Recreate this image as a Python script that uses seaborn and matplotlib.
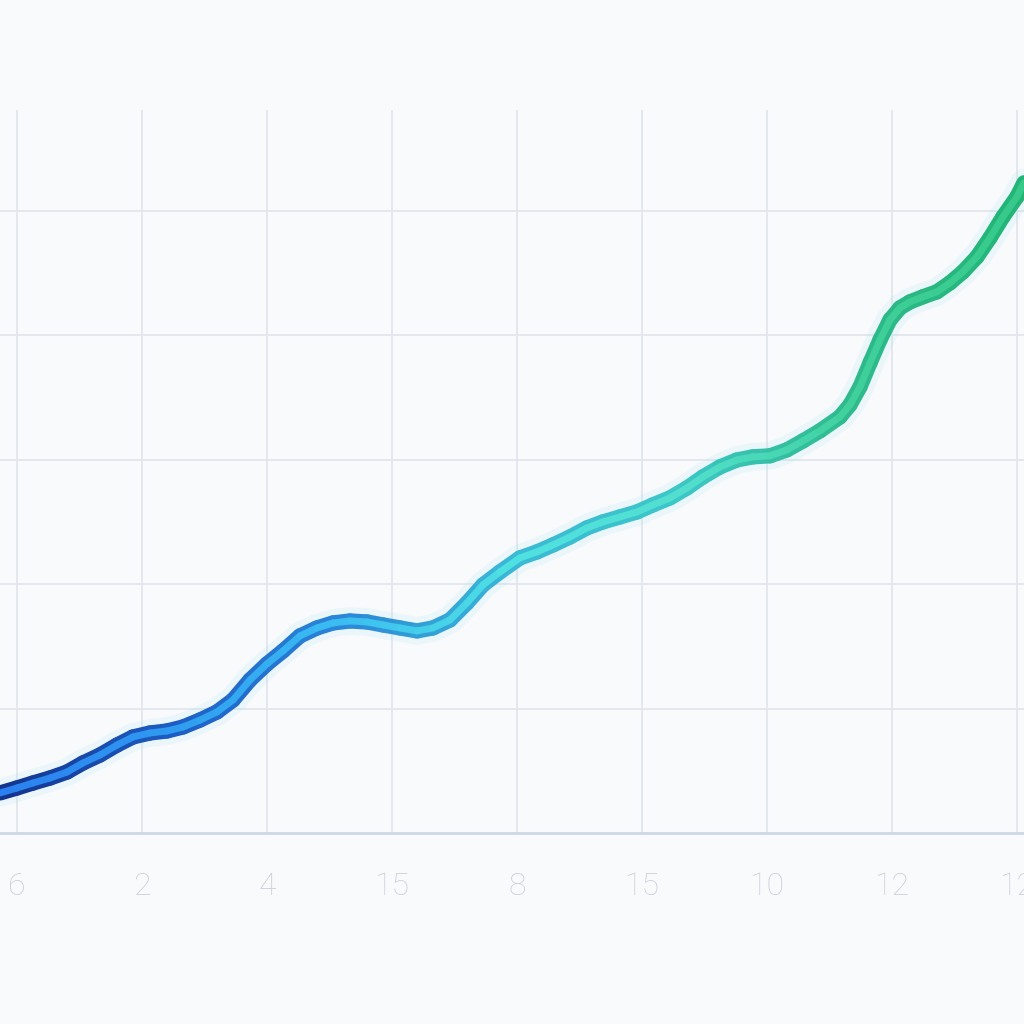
import numpy as np
import pandas as pd
import seaborn as sns
import matplotlib.pyplot as plt
from matplotlib.collections import LineCollection
from matplotlib.colors import LinearSegmentedColormap

# valores (unidades de la rejilla)
x_vals = [-0.136, 0.0, 0.128, 0.264, 0.4, 0.528, 0.664, 0.8, 0.928, 1.064,
          1.2, 1.328, 1.464, 1.6, 1.728, 1.864, 2.0, 2.128, 2.264, 2.4,
          2.528, 2.664, 2.8, 2.928, 3.064, 3.2, 3.328, 3.464, 3.6, 3.728,
          3.864, 4.024, 4.16, 4.288, 4.424, 4.56, 4.688, 4.824, 4.96, 5.088,
          5.224, 5.36, 5.488, 5.624, 5.76, 5.888, 6.024, 6.16, 6.288, 6.424,
          6.584, 6.664, 6.744, 6.824, 6.904, 6.984, 7.064, 7.144, 7.248, 7.36,
          7.464, 7.568, 7.68, 7.784, 7.888, 8.0, 8.056]
y_vals = [0.322, 0.362, 0.402, 0.442, 0.490, 0.563, 0.627, 0.707, 0.772, 0.804,
          0.820, 0.852, 0.908, 0.973, 1.069, 1.230, 1.359, 1.463, 1.584, 1.648,
          1.688, 1.704, 1.696, 1.672, 1.648, 1.624, 1.648, 1.712, 1.849, 1.994,
          2.098, 2.211, 2.259, 2.315, 2.379, 2.452, 2.500, 2.540, 2.580, 2.637,
          2.693, 2.773, 2.862, 2.942, 2.998, 3.023, 3.031, 3.079, 3.151, 3.232,
          3.344, 3.441, 3.585, 3.778, 3.963, 4.124, 4.220, 4.268, 4.309, 4.349,
          4.421, 4.510, 4.630, 4.783, 4.952, 5.113, 5.225]
tick_pos = [0, 1, 2, 3, 4, 5, 6, 7, 8]
tick_labels = ['6', '2', '4', '15', '8', '15', '10', '12', '12']

df = pd.DataFrame({'x': x_vals, 'y': y_vals})

bg = '#f9fafc'
grid_c = '#e3e6ed'

sns.set_theme(style='white')
plt.rcParams['font.family'] = ['Roboto', 'DejaVu Sans']

fig = plt.figure(figsize=(10.24, 10.24), dpi=100, facecolor=bg)
ax = fig.add_axes([0, 0.1865, 1, 0.7061], facecolor=bg)

# halo suave
sns.lineplot(data=df, x='x', y='y', ax=ax, color='#7fe0f0', lw=20, alpha=0.12,
             solid_capstyle='round', sort=False)

outer = LinearSegmentedColormap.from_list('outer', ['#12328a', '#1d5cc4', '#2a86d8',
                                                    '#3ab8d6', '#3cc7c8', '#2fba8c', '#22b576'])
inner = LinearSegmentedColormap.from_list('inner', ['#2a7ff0', '#2f9bf0', '#3bbdf2',
                                                    '#4fe0e2', '#52dfd0', '#40d09c', '#36c98a'])

pts = np.column_stack([x_vals, y_vals]).reshape(-1, 1, 2)
segs = np.concatenate([pts[:-1], pts[1:]], axis=1)
t = (np.array(x_vals[:-1]) + np.array(x_vals[1:])) / 2
t = (t - min(x_vals)) / (max(x_vals) - min(x_vals))

lc1 = LineCollection(segs, colors=outer(t), linewidths=11, capstyle='round', joinstyle='round', zorder=3)
lc2 = LineCollection(segs, colors=inner(t), linewidths=5, capstyle='round', joinstyle='round', zorder=4)
ax.add_collection(lc1)
ax.add_collection(lc2)

ax.set_xlim(-0.136, 8.056)
ax.set_ylim(0, 5.81)
ax.set_xticks(tick_pos)
ax.set_xticklabels(tick_labels)
ax.set_yticks([1, 2, 3, 4, 5])
ax.set_yticklabels([])
ax.tick_params(axis='y', length=0)
ax.tick_params(axis='x', length=21, width=1.1, color=grid_c, direction='out', pad=7,
               labelsize=23, labelcolor='#c9ced8')
for lab in ax.get_xticklabels():
    lab.set_fontweight('light')

ax.grid(True, color=grid_c, lw=1.3)
ax.set_axisbelow(True)
for s in ['top', 'right', 'left']:
    ax.spines[s].set_visible(False)
ax.spines['bottom'].set_color('#cfd7e5')
ax.spines['bottom'].set_linewidth(2)
ax.set_xlabel('')
ax.set_ylabel('')
if ax.get_legend():
    ax.get_legend().remove()

fig.savefig('out.png', dpi=100, facecolor=bg)
